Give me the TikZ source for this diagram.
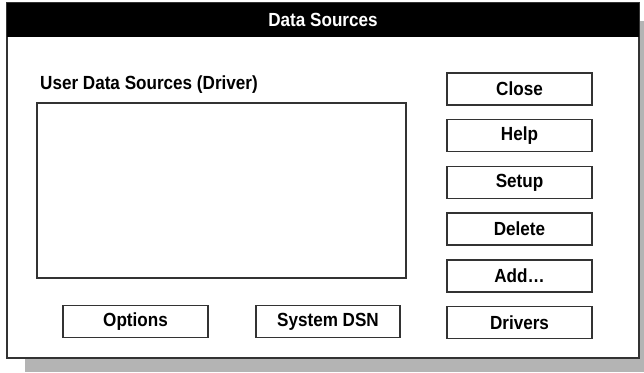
\documentclass[tikz,border=0pt]{standalone}
\usepackage{fontspec}
\setmainfont{Liberation Sans}[FakeStretch=0.9]
\usepackage{tikz}
\usetikzlibrary{positioning}
\definecolor{FrameGray}{HTML}{333333}
\definecolor{ShadowGray}{HTML}{B4B4B4}
\tikzset{
  % Box styles
  buttonbox/.style={rectangle, draw=FrameGray, line width=1.4pt, fill=white, minimum width=145pt, minimum height=32pt, inner sep=0pt, font=\fontsize{19}{21}\selectfont\bfseries},
  listbox/.style={draw=FrameGray, line width=1.8pt, fill=white},
  % Text styles
  titletext/.style={text=white, font=\fontsize{19}{21}\selectfont\bfseries},
  labeltext/.style={inner sep=0pt, font=\fontsize{19}{21}\selectfont\bfseries}
}

\begin{document}
\begin{tikzpicture}[x=1pt, y=-1pt, node distance=13.3pt]
  \useasboundingbox (0,0) rectangle (644,372);

  % Window shadow and frame
  \fill[ShadowGray] (25,21) rectangle (644,372);
  \draw[FrameGray, line width=1.4pt, fill=white] (7,3) rectangle (639,358);
  \fill[black] (7,3) rectangle (639,37);
  \node[titletext] (title) at (323,20) {Data Sources};

  % List of data sources
  \node[labeltext, anchor=base west] (listlabel) at (40,89) {User Data Sources (Driver)};
  \draw[listbox] (37,103) rectangle (406,278);

  % Right column of buttons
  \node[buttonbox] (close) at (519.5,89) {Close};
  \node[buttonbox, below=of close] (help) {Help};
  \node[buttonbox, below=of help] (setup) {Setup};
  \node[buttonbox, below=of setup] (delete) {Delete};
  \node[buttonbox, below=of delete] (add) {Add\ldots};
  \node[buttonbox, below=of add] (drivers) {Drivers};

  % Bottom row of buttons
  \node[buttonbox] (options) at (135.5,321.5) {Options};
  \node[buttonbox, minimum width=144pt] (systemdsn) at (328,321.5) {System DSN};
\end{tikzpicture}
\end{document}
